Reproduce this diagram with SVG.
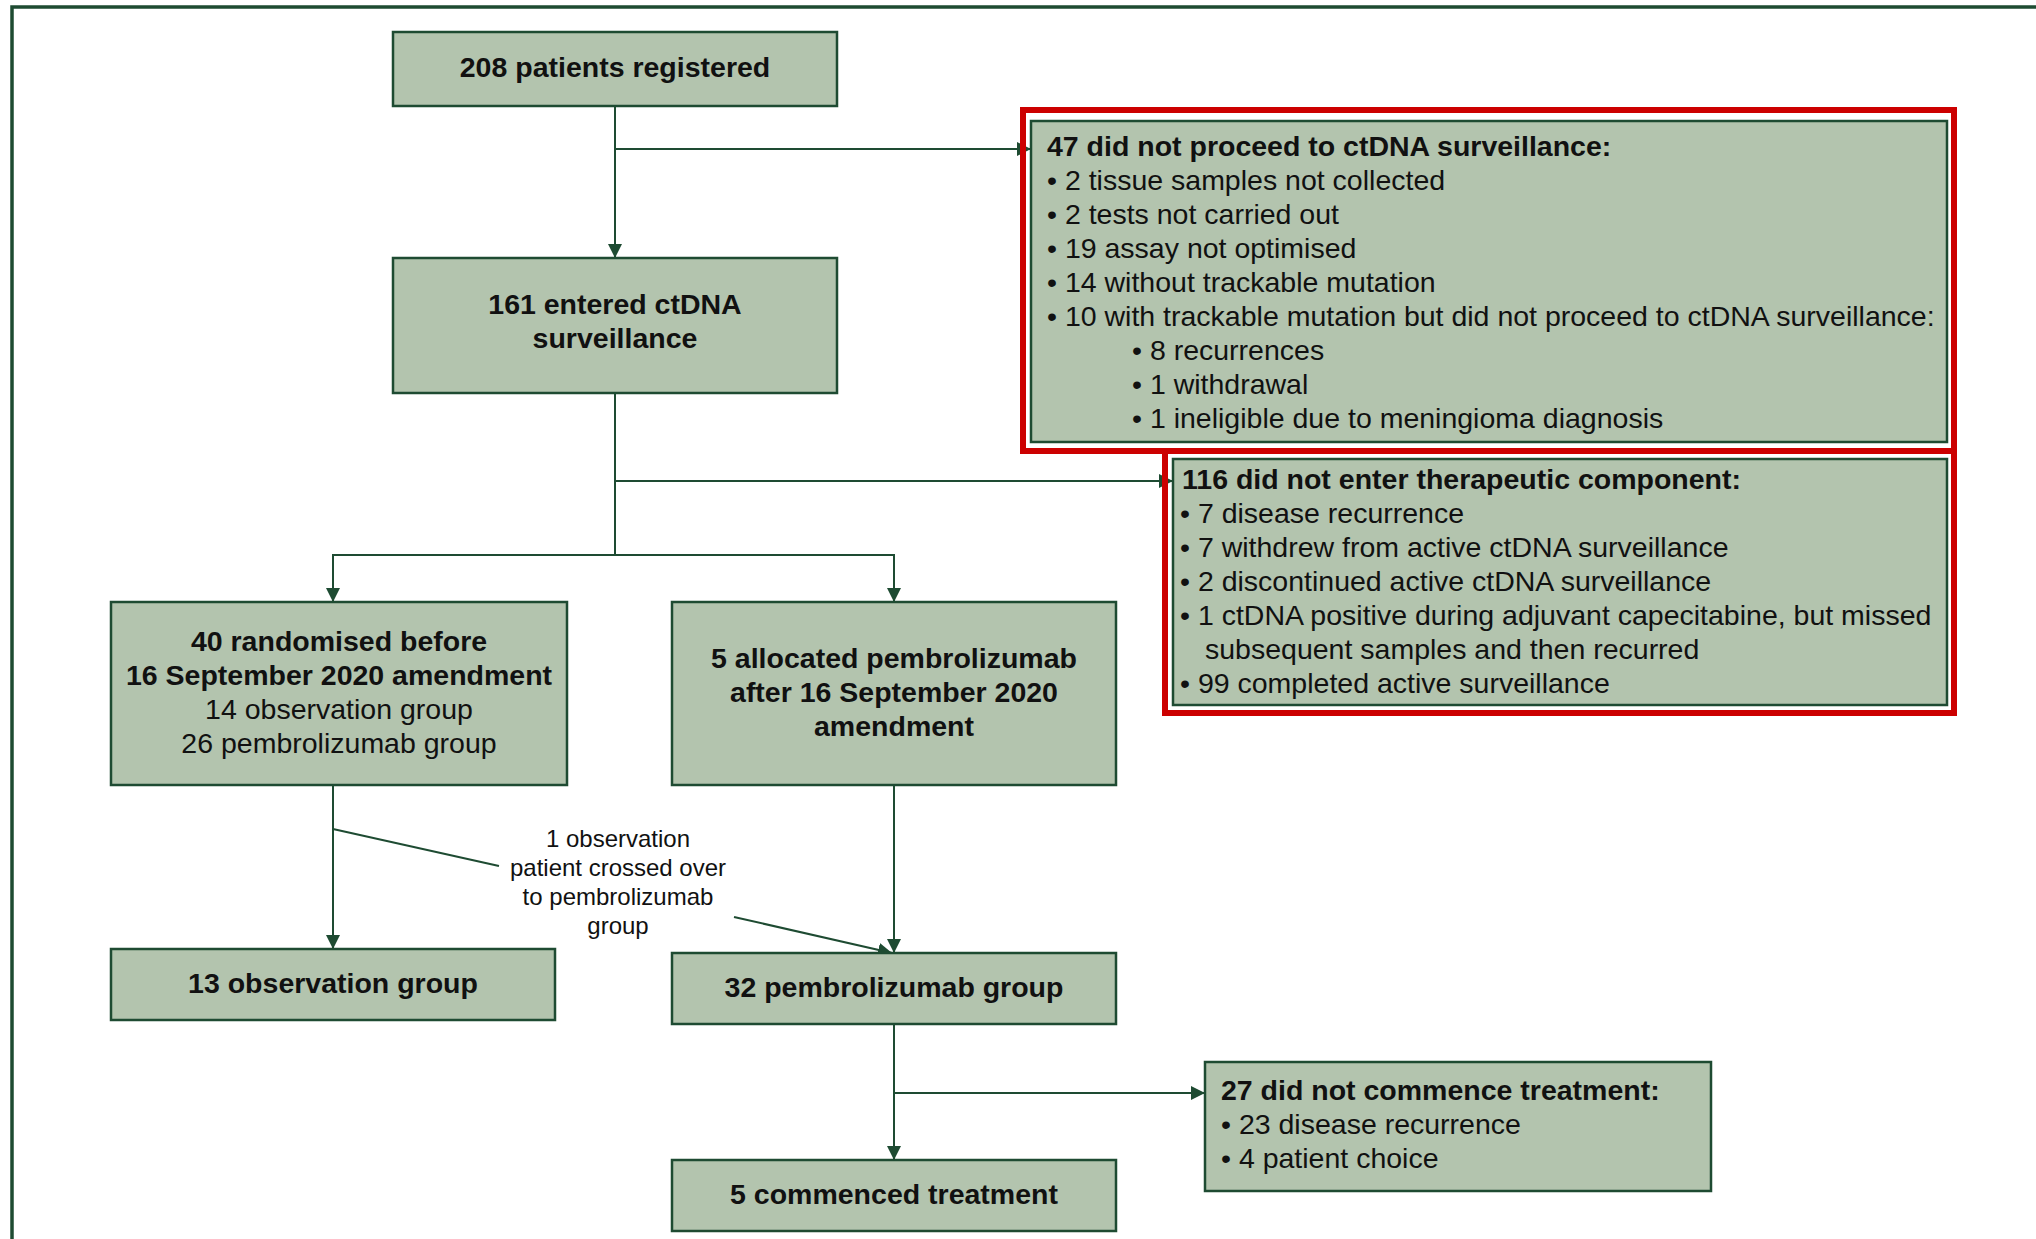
<svg xmlns="http://www.w3.org/2000/svg" width="2036" height="1239" viewBox="0 0 2036 1239">
<defs>
<style>
.box{fill:#b3c4ae;stroke:#1e4b32;stroke-width:2.5}
.red{fill:none;stroke:#cc0000;stroke-width:6}
.ln{fill:none;stroke:#1e4b32;stroke-width:2}
.t{font-family:"Liberation Sans",Arial,Helvetica,sans-serif;font-size:28.5px;fill:#111}
.b{font-weight:bold}
.c{text-anchor:middle}
.s{font-family:"Liberation Sans",Arial,Helvetica,sans-serif;font-size:24px;fill:#111;text-anchor:middle}
</style>
<marker id="ar" markerUnits="userSpaceOnUse" markerWidth="14" markerHeight="14" viewBox="0 0 14 14" refX="14" refY="7" orient="auto">
<path d="M0,0 L14,7 L0,14 Z" fill="#1e4b32"/>
</marker>
</defs>
<rect x="0" y="0" width="2036" height="1239" fill="#fff"/>
<rect x="12" y="7" width="2100" height="1300" fill="none" stroke="#1e4b32" stroke-width="3.5"/>

<g id="connectors">
<line class="ln" x1="615" y1="106" x2="615" y2="258" marker-end="url(#ar)"/>
<line class="ln" x1="615" y1="149" x2="1031" y2="149" marker-end="url(#ar)"/>
<line class="ln" x1="615" y1="393" x2="615" y2="555"/>
<line class="ln" x1="615" y1="481" x2="1173" y2="481" marker-end="url(#ar)"/>
<polyline class="ln" points="333,602 333,555 894,555 894,602"/>
<line class="ln" x1="333" y1="580" x2="333" y2="602" marker-end="url(#ar)"/>
<line class="ln" x1="894" y1="580" x2="894" y2="602" marker-end="url(#ar)"/>
<line class="ln" x1="333" y1="785" x2="333" y2="949" marker-end="url(#ar)"/>
<line class="ln" x1="894" y1="785" x2="894" y2="953" marker-end="url(#ar)"/>
<line class="ln" x1="333" y1="829" x2="499" y2="866"/>
<line class="ln" x1="734" y1="917" x2="892" y2="953" marker-end="url(#ar)"/>
<line class="ln" x1="894" y1="1024" x2="894" y2="1160" marker-end="url(#ar)"/>
<line class="ln" x1="894" y1="1093" x2="1205" y2="1093" marker-end="url(#ar)"/>
<text class="s" x="618" y="847">1 observation</text>
<text class="s" x="618" y="876">patient crossed over</text>
<text class="s" x="618" y="905">to pembrolizumab</text>
<text class="s" x="618" y="934">group</text>
</g>

<g id="n208">
<rect class="box" x="393" y="32" width="444" height="74"/>
<text class="t b c" x="615" y="77">208 patients registered</text>
</g>

<g id="n161">
<rect class="box" x="393" y="258" width="444" height="135"/>
<text class="t b c" x="615" y="314">161 entered ctDNA</text>
<text class="t b c" x="615" y="348">surveillance</text>
</g>

<g id="n47">
<rect class="box" x="1031" y="121" width="916" height="321"/>
<rect class="red" x="1023" y="110" width="931" height="341"/>
<text class="t b" x="1047" y="156">47 did not proceed to ctDNA surveillance:</text>
<text class="t" x="1047" y="190">• 2 tissue samples not collected</text>
<text class="t" x="1047" y="224">• 2 tests not carried out</text>
<text class="t" x="1047" y="258">• 19 assay not optimised</text>
<text class="t" x="1047" y="292">• 14 without trackable mutation</text>
<text class="t" x="1047" y="326">• 10 with trackable mutation but did not proceed to ctDNA surveillance:</text>
<text class="t" x="1132" y="360">• 8 recurrences</text>
<text class="t" x="1132" y="394">• 1 withdrawal</text>
<text class="t" x="1132" y="428">• 1 ineligible due to meningioma diagnosis</text>
</g>

<g id="n116">
<rect class="box" x="1173" y="459" width="774" height="246"/>
<rect class="red" x="1165" y="451" width="789" height="262"/>
<text class="t b" x="1182" y="489">116 did not enter therapeutic component:</text>
<text class="t" x="1180" y="523">• 7 disease recurrence</text>
<text class="t" x="1180" y="557">• 7 withdrew from active ctDNA surveillance</text>
<text class="t" x="1180" y="591">• 2 discontinued active ctDNA surveillance</text>
<text class="t" x="1180" y="625">• 1 ctDNA positive during adjuvant capecitabine, but missed</text>
<text class="t" x="1205" y="659">subsequent samples and then recurred</text>
<text class="t" x="1180" y="693">• 99 completed active surveillance</text>
</g>

<g id="n40">
<rect class="box" x="111" y="602" width="456" height="183"/>
<text class="t b c" x="339" y="651">40 randomised before</text>
<text class="t b c" x="339" y="685">16 September 2020 amendment</text>
<text class="t c" x="339" y="719">14 observation group</text>
<text class="t c" x="339" y="753">26 pembrolizumab group</text>
</g>

<g id="n5alloc">
<rect class="box" x="672" y="602" width="444" height="183"/>
<text class="t b c" x="894" y="668">5 allocated pembrolizumab</text>
<text class="t b c" x="894" y="702">after 16 September 2020</text>
<text class="t b c" x="894" y="736">amendment</text>
</g>

<g id="n13">
<rect class="box" x="111" y="949" width="444" height="71"/>
<text class="t b c" x="333" y="993">13 observation group</text>
</g>

<g id="n32">
<rect class="box" x="672" y="953" width="444" height="71"/>
<text class="t b c" x="894" y="997">32 pembrolizumab group</text>
</g>

<g id="n27">
<rect class="box" x="1205" y="1062" width="506" height="129"/>
<text class="t b" x="1221" y="1100">27 did not commence treatment:</text>
<text class="t" x="1221" y="1134">• 23 disease recurrence</text>
<text class="t" x="1221" y="1168">• 4 patient choice</text>
</g>

<g id="n5comm">
<rect class="box" x="672" y="1160" width="444" height="71"/>
<text class="t b c" x="894" y="1204">5 commenced treatment</text>
</g>
</svg>
